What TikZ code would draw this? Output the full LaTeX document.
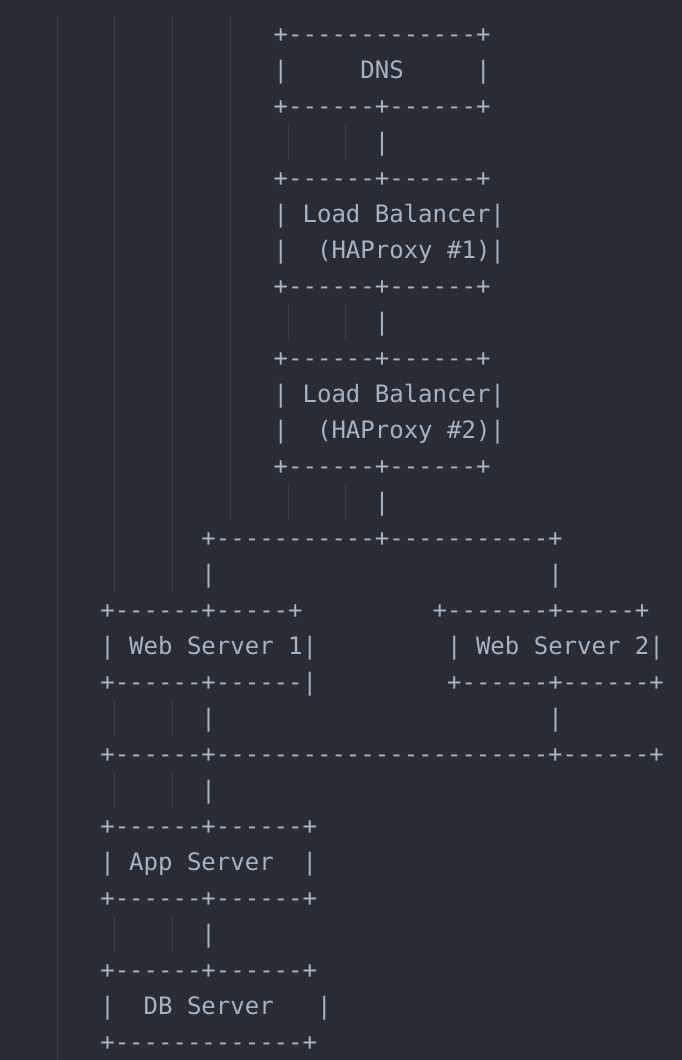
\documentclass[tikz,border=0pt]{standalone}
\usepackage{fontspec}
\setmonofont{DejaVu Sans Mono}
\definecolor{bg}{HTML}{282C34}
\definecolor{ink}{HTML}{ABB2BF}
\definecolor{guide}{HTML}{3B4048}
\frenchspacing

\begin{document}
\begin{tikzpicture}[x=14.449pt,y=-36pt,ascii/.style={anchor=base west,inner sep=0pt,outer sep=0pt,text=ink,font=\ttfamily\fontsize{24}{36}\selectfont},guideline/.style={draw=guide,line width=1pt}]
 \fill[bg] (0pt,0pt) rectangle (682pt,-1060pt);
 \useasboundingbox (0pt,0pt) rectangle (682pt,-1060pt);
 % indent guides
 \begin{scope}[shift={(57pt,-16pt)}]
  \draw[guideline] (0,0)--(0,29); \draw[guideline] (4,0)--(4,16); \draw[guideline] (8,0)--(8,16); \draw[guideline] (12,0)--(12,14);
  \draw[guideline] (16,3)--(16,4); \draw[guideline] (20,3)--(20,4);
  \draw[guideline] (16,8)--(16,9); \draw[guideline] (20,8)--(20,9);
  \draw[guideline] (16,13)--(16,14); \draw[guideline] (20,13)--(20,14);
  \draw[guideline] (4,19)--(4,20); \draw[guideline] (8,19)--(8,20);
  \draw[guideline] (4,21)--(4,22); \draw[guideline] (8,21)--(8,22);
  \draw[guideline] (4,25)--(4,26); \draw[guideline] (8,25)--(8,26);
 \end{scope}
 % the diagram, line by line
 \begin{scope}[shift={(57pt,-42pt)}]
  \node[ascii] (dnsTop) at (15,0) {+-------------+};
  \node[ascii] (dns) at (15,1) {|~~~~~DNS~~~~~|};
  \node[ascii] (dnsBot) at (15,2) {+------+------+};
  \node[ascii] (linkA) at (22,3) {|};
  \node[ascii] (lbOneTop) at (15,4) {+------+------+};
  \node[ascii] (lbOne) at (15,5) {| Load Balancer|};
  \node[ascii] (lbOneSub) at (15,6) {|~~(HAProxy \#1)|};
  \node[ascii] (lbOneBot) at (15,7) {+------+------+};
  \node[ascii] (linkB) at (22,8) {|};
  \node[ascii] (lbTwoTop) at (15,9) {+------+------+};
  \node[ascii] (lbTwo) at (15,10) {| Load Balancer|};
  \node[ascii] (lbTwoSub) at (15,11) {|~~(HAProxy \#2)|};
  \node[ascii] (lbTwoBot) at (15,12) {+------+------+};
  \node[ascii] (linkC) at (22,13) {|};
  \node[ascii] (split) at (10,14) {+-----------+-----------+};
  \node[ascii] (linkD) at (10,15) {|}; \node[ascii] (linkE) at (34,15) {|};
  \node[ascii] (webOneTop) at (3,16) {+------+-----+}; \node[ascii] (webTwoTop) at (26,16) {+-------+-----+};
  \node[ascii] (webOne) at (3,17) {| Web Server 1|}; \node[ascii] (webTwo) at (27,17) {| Web Server 2|};
  \node[ascii] (webOneBot) at (3,18) {+------+------|}; \node[ascii] (webTwoBot) at (27,18) {+------+------+};
  \node[ascii] (linkF) at (10,19) {|}; \node[ascii] (linkG) at (34,19) {|};
  \node[ascii] (join) at (3,20) {+------+-----------------------+------+};
  \node[ascii] (linkH) at (10,21) {|};
  \node[ascii] (appTop) at (3,22) {+------+------+};
  \node[ascii] (app) at (3,23) {| App Server~~|};
  \node[ascii] (appBot) at (3,24) {+------+------+};
  \node[ascii] (linkI) at (10,25) {|};
  \node[ascii] (dbTop) at (3,26) {+------+------+};
  \node[ascii] (db) at (3,27) {|~~DB Server~~~|};
  \node[ascii] (dbBot) at (3,28) {+-------------+};
 \end{scope}
\end{tikzpicture}
\end{document}
